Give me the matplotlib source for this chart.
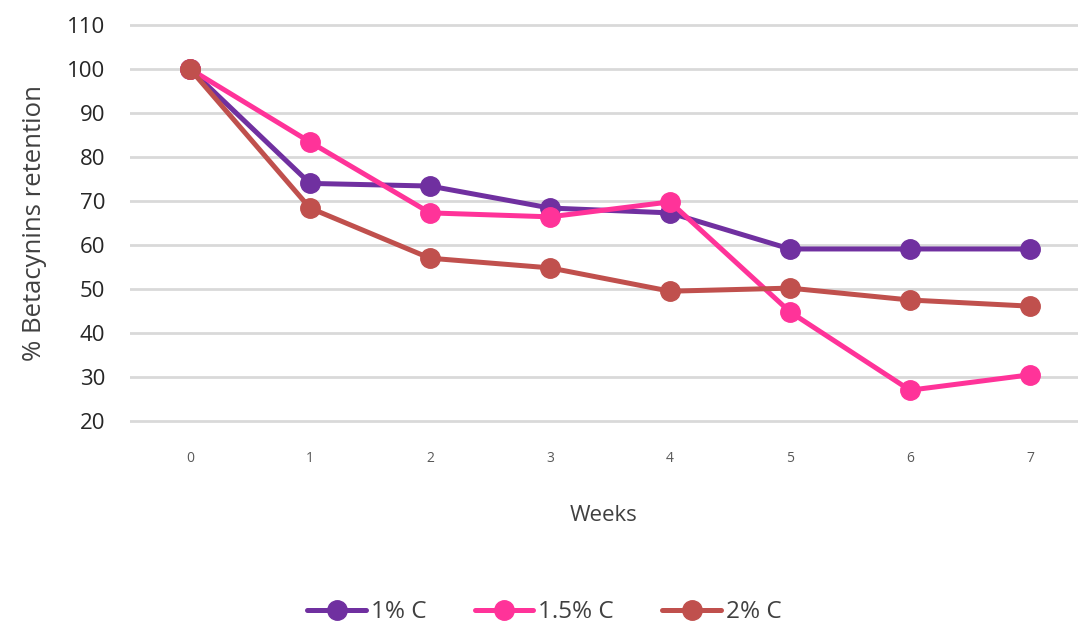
import matplotlib.pyplot as plt

plt.rcParams['font.family'] = ['Open Sans', 'DejaVu Sans']

# Retención de betacianinas por semana
semanas = [0, 1, 2, 3, 4, 5, 6, 7]
c_1 = [100, 74.0, 73.4, 68.4, 67.3, 59.1, 59.1, 59.1]
c_15 = [100, 83.4, 67.3, 66.4, 69.8, 44.8, 27.0, 30.5]
c_2 = [100, 68.4, 57.0, 54.8, 49.5, 50.2, 47.5, 46.1]
etiquetas = ['1% C', '1.5% C', '2% C']
colores = ['#7030A0', '#FF3399', '#C0504D']
yticks = [20, 30, 40, 50, 60, 70, 80, 90, 100, 110]

fig = plt.figure(figsize=(10.78, 6.28), dpi=100)
ax = fig.add_axes([0.1206, 0.3261, 0.8794, 0.6376])

for serie, nombre, color in zip([c_1, c_15, c_2], etiquetas, colores):
    ax.plot(semanas, serie, color=color, linewidth=3.6, marker='o',
            markersize=14, label=nombre, solid_capstyle='round')

ax.set_ylim(19.5, 110.5)
ax.set_xlim(-0.5, 7.4)
ax.set_yticks(yticks)
ax.set_xticks(semanas)
ax.tick_params(axis='y', length=0, labelsize=16, labelcolor='#262626', pad=18)
ax.tick_params(axis='x', length=0, labelsize=10, labelcolor='#595959', pad=20)
ax.grid(axis='y', color='#D9D9D9', linewidth=2)
ax.set_axisbelow(True)
for s in ax.spines.values():
    s.set_visible(False)

ax.set_ylabel('% Betacynins retention', fontsize=18.5, color='#404040', labelpad=14)
ax.set_xlabel('Weeks', fontsize=16, color='#404040', labelpad=28)

fig.legend(loc='center', bbox_to_anchor=(0.505, 0.025), ncol=3, frameon=False,
           fontsize=17.5, handlelength=2.4, columnspacing=2.0, handletextpad=0.2,
           labelcolor='#404040')

plt.savefig('out.png', dpi=100)
plt.close()
